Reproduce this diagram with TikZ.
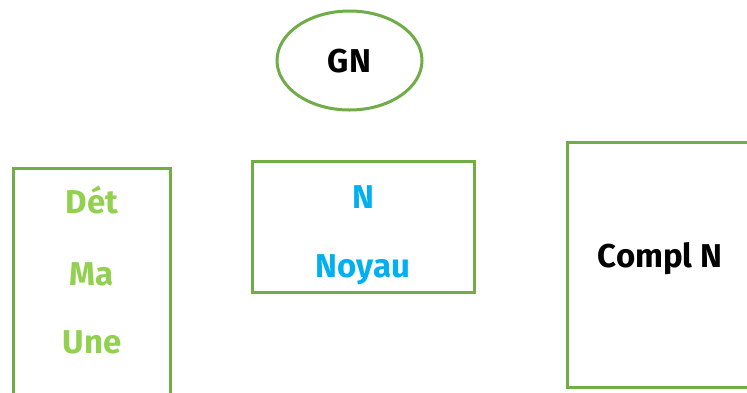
\documentclass[tikz,border=0pt]{standalone}
\usepackage{fontspec}
\setmainfont{Fira Sans}
\usetikzlibrary{shapes.geometric}
\definecolor{frame}{HTML}{70AD47}
\definecolor{lgreen}{HTML}{92D050}
\definecolor{lblue}{HTML}{00B0F0}
\tikzset{
  box/.style={draw=frame,line width=3pt,rectangle,inner sep=0pt},
  lbl/.style={font=\fontsize{33}{36}\selectfont\bfseries,inner sep=0pt,anchor=base},
}
\begin{document}
\begin{tikzpicture}[x=1pt,y=-1pt]
\useasboundingbox (0,0) rectangle (747,392);
\clip (0,0) rectangle (747,392);
\fill[white] (0,0) rectangle (747,392);
\node[draw=frame,line width=3pt,ellipse,minimum width=145pt,minimum height=99pt,inner sep=0pt] (gn) at (349.5,60.5) {};
\node[lbl,text=black] (gnt) at (349.5,72) {GN};
\node[box,minimum width=157pt,minimum height=250pt] (det) at (91.5,293) {};
\node[lbl,text=lgreen] (t1) at (92,213) {Dét};
\node[lbl,text=lgreen] (t2) at (92,285) {Ma};
\node[lbl,text=lgreen] (t3) at (92,353) {Une};
\node[box,minimum width=222pt,minimum height=131pt] (noy) at (363,226.5) {};
\node[lbl,text=lblue] (n1) at (363,208) {N};
\node[lbl,text=lblue] (n2) at (363,277) {Noyau};
\node[box,minimum width=210pt,minimum height=245pt] (cpl) at (672,264.5) {};
\node[lbl,text=black] (c1) at (660,267) {Compl N};
\end{tikzpicture}
\end{document}
